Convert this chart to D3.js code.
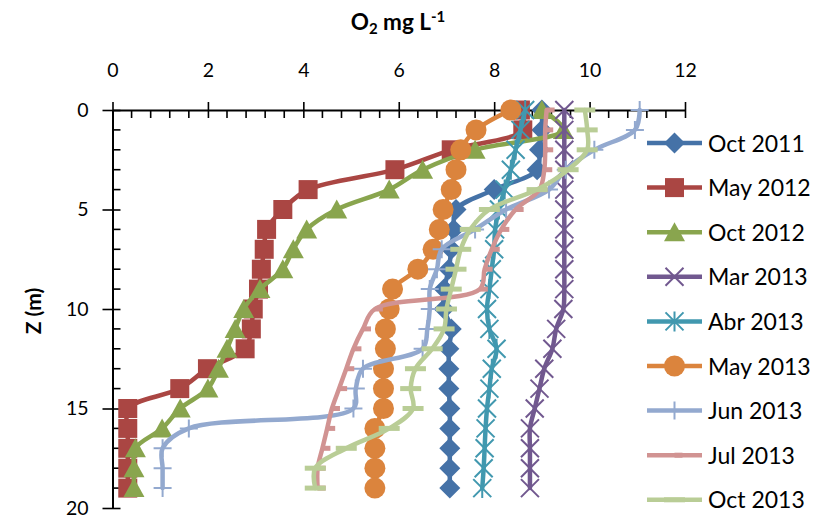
<!DOCTYPE html>
<html>
<head>
<meta charset="utf-8">
<script src="https://cdn.jsdelivr.net/npm/d3@7"></script>
<style>
  html, body { margin: 0; padding: 0; background: #fff; }
  svg { display: block; font-family: Lato, "Open Sans", sans-serif; }
</style>
</head>
<body>
<svg id="chart" width="817" height="525"></svg>
<script>
// Dissolved oxygen profiles (mg/L) by depth (m)
const depths = [0, 1, 2, 3, 4, 5, 6, 7, 8, 9, 10, 11, 12, 13, 14, 15, 16, 17, 18, 19];

const seriesNames = ["Oct 2011", "May 2012", "Oct 2012", "Mar 2013", "Abr 2013",
                     "May 2013", "Jun 2013", "Jul 2013", "Oct 2013"];

const oct2011 = [9.0, 9.0, 8.95, 8.9, 8.0, 7.2, 7.15, 7.1, 7.05, 6.95, 6.95, 7.1, 7.05, 7.05, 7.05, 7.07, 7.07, 7.07, 7.07, 7.07];
const may2012 = [8.55, 8.6, 7.1, 5.92, 4.1, 3.57, 3.23, 3.18, 3.12, 3.06, 2.95, 2.91, 2.78, 1.99, 1.41, 0.32, 0.32, 0.32, 0.32, 0.32];
const oct2012 = [9.0, 9.45, 7.6, 6.5, 5.8, 4.7, 4.07, 3.79, 3.57, 3.09, 2.75, 2.57, 2.4, 2.22, 2.0, 1.42, 1.04, 0.48, 0.45, 0.45];
const mar2013 = [9.47, 9.47, 9.47, 9.47, 9.47, 9.47, 9.47, 9.47, 9.47, 9.47, 9.45, 9.3, 9.22, 9.05, 8.95, 8.85, 8.75, 8.75, 8.75, 8.75];
const abr2013 = [8.65, 8.55, 8.45, 8.35, 8.22, 8.1, 8.02, 8.0, 7.95, 7.9, 7.85, 7.9, 8.05, 7.95, 7.9, 7.85, 7.82, 7.8, 7.78, 7.75];
const may2013 = [8.35, 7.62, 7.3, 7.2, 7.1, 6.93, 6.85, 6.72, 6.4, 5.87, 5.8, 5.72, 5.72, 5.68, 5.68, 5.68, 5.5, 5.5, 5.5, 5.5];
const jun2013 = [11.05, 10.95, 10.1, 9.5, 9.15, 8.25, 7.6, 6.9, 6.8, 6.65, 6.65, 6.6, 6.5, 5.25, 5.1, 5.05, 1.6, 1.05, 1.05, 1.05];
const jul2013 = [9.1, 9.07, 9.07, 9.05, 8.95, 8.45, 8.15, 7.95, 7.8, 7.7, 5.5, 5.25, 5.05, 4.9, 4.75, 4.6, 4.5, 4.4, 4.3, 4.3];
const oct2013 = [9.9, 9.95, 9.95, 9.55, 8.9, 7.9, 7.5, 7.3, 7.2, 7.1, 7.0, 6.95, 6.7, 6.35, 6.25, 6.3, 5.8, 4.9, 4.25, 4.25];

const xTicks = [0, 2, 4, 6, 8, 10, 12];
const yTicks = [0, 5, 10, 15, 20];

const seriesValues = [oct2011, may2012, oct2012, mar2013, abr2013, may2013, jun2013, jul2013, oct2013];
const seriesColors = ["#4572A7", "#AA4643", "#89A54E", "#71588F", "#4198AF",
                      "#DB843D", "#93A9CF", "#D19392", "#B9CD96"];
const seriesMarkers = ["diamond", "square", "triangle", "x", "star", "circle", "plus", "dash", "bar"];

const svg = d3.select("#chart");

const x = d3.scaleLinear().domain([0, 12]).range([112.5, 685]);
const y = d3.scaleLinear().domain([0, 20]).range([110, 508]);

// ---- axes ----
const minorX = d3.range(0, 12.001, 0.4).filter(v => Math.abs(v / 2 - Math.round(v / 2)) > 1e-6);
const minorY = d3.range(0, 20.001, 1).filter(v => v % 5 !== 0);

const axisG = svg.append("g");

// top value axis
const xAxis = axisG.append("g")
  .attr("transform", `translate(0,${y(0)})`)
  .call(d3.axisTop(x).tickValues(xTicks).tickFormat(d3.format("d"))
        .tickSizeInner(8).tickSizeOuter(0).tickPadding(25));
xAxis.selectAll(".tick line").attr("y1", 8).attr("y2", -8);
xAxis.append("g").selectAll("line").data(minorX).join("line")
  .attr("x1", d => x(d)).attr("x2", d => x(d))
  .attr("y1", 0).attr("y2", 8);

// left depth axis
const yAxis = axisG.append("g")
  .attr("transform", `translate(${x(0)},0)`)
  .call(d3.axisLeft(y).tickValues(yTicks).tickFormat(d3.format("d"))
        .tickSizeInner(10).tickSizeOuter(0).tickPadding(14));
yAxis.selectAll(".tick line").attr("x1", 8).attr("x2", -10);
yAxis.append("g").selectAll("line").data(minorY).join("line")
  .attr("y1", d => y(d)).attr("y2", d => y(d))
  .attr("x1", 0).attr("x2", 8);

axisG.selectAll(".domain").attr("stroke", "#000").attr("stroke-width", 2);
axisG.selectAll("line").attr("stroke", "#000").attr("stroke-width", 1.6);
axisG.selectAll(".tick text")
  .attr("fill", "#000")
  .style("font-family", "Lato, sans-serif")
  .style("font-size", "19.5px");

// axis titles
const title = svg.append("text")
  .attr("x", 398).attr("y", 30)
  .attr("text-anchor", "middle")
  .style("font-weight", "bold").style("font-size", "22.5px");
title.append("tspan").text("O");
title.append("tspan").attr("font-size", "15px").attr("dy", 4).text("2");
title.append("tspan").attr("dy", -4).text(" mg L");
title.append("tspan").attr("font-size", "15px").attr("dy", -8).text("-1");

svg.append("text")
  .attr("transform", `translate(41,${(y(0) + y(20)) / 2 + 2}) rotate(-90)`)
  .attr("text-anchor", "middle")
  .style("font-weight", "bold").style("font-size", "21px")
  .text("Z (m)");

// ---- markers ----
function drawMarker(g, type, color) {
  switch (type) {
    case "diamond":
      g.append("path").attr("d", "M0,-10.5L10.5,0L0,10.5L-10.5,0Z").attr("fill", color); break;
    case "square":
      g.append("rect").attr("x", -9.5).attr("y", -9.5).attr("width", 19).attr("height", 19).attr("fill", color); break;
    case "triangle":
      g.append("path").attr("d", "M0,-10L10.5,9L-10.5,9Z").attr("fill", color); break;
    case "x":
      g.append("path").attr("d", "M-9,-9L9,9M-9,9L9,-9").attr("stroke", color).attr("stroke-width", 2).attr("fill", "none"); break;
    case "star":
      g.append("path").attr("d", "M-9,-9L9,9M-9,9L9,-9M0,-10L0,10").attr("stroke", color).attr("stroke-width", 2).attr("fill", "none"); break;
    case "circle":
      g.append("circle").attr("r", 10.5).attr("fill", color); break;
    case "plus":
      g.append("path").attr("d", "M-9,0L9,0M0,-9L0,9").attr("stroke", color).attr("stroke-width", 2).attr("fill", "none"); break;
    case "dash":
      g.append("rect").attr("x", 0).attr("y", -2.5).attr("width", 8).attr("height", 5).attr("fill", color); break;
    case "bar":
      g.append("rect").attr("x", -10.5).attr("y", -2.5).attr("width", 21).attr("height", 5).attr("fill", color); break;
  }
}

// ---- series ----
const line = d3.line()
  .x(d => x(d.v))
  .y(d => y(d.z))
  .curve(d3.curveCatmullRom.alpha(0.5));

const plot = svg.append("g");
seriesValues.forEach((vals, i) => {
  const pts = depths.map((z, k) => ({ z, v: vals[k] }));
  const g = plot.append("g");
  g.append("path")
    .datum(pts)
    .attr("d", line)
    .attr("fill", "none")
    .attr("stroke", seriesColors[i])
    .attr("stroke-width", 4.5)
    .attr("stroke-linejoin", "round")
    .attr("stroke-linecap", "round");
  g.selectAll("g.m").data(pts).join("g")
    .attr("class", "m")
    .attr("transform", d => `translate(${x(d.v)},${y(d.z)})`)
    .each(function () { drawMarker(d3.select(this), seriesMarkers[i], seriesColors[i]); });
});

// ---- legend ----
const legend = svg.append("g").attr("transform", "translate(647,143)");
seriesNames.forEach((name, i) => {
  const row = legend.append("g").attr("transform", `translate(0,${i * 44.6})`);
  row.append("line")
    .attr("x1", 0).attr("x2", 55).attr("y1", 0).attr("y2", 0)
    .attr("stroke", seriesColors[i]).attr("stroke-width", 4.5);
  const m = row.append("g").attr("transform", "translate(27.5,0)");
  drawMarker(m, seriesMarkers[i], seriesColors[i]);
  row.append("text")
    .attr("x", 61).attr("y", 8.5)
    .style("font-size", "23px")
    .attr("fill", "#000")
    .text(name);
});
</script>
</body>
</html>
